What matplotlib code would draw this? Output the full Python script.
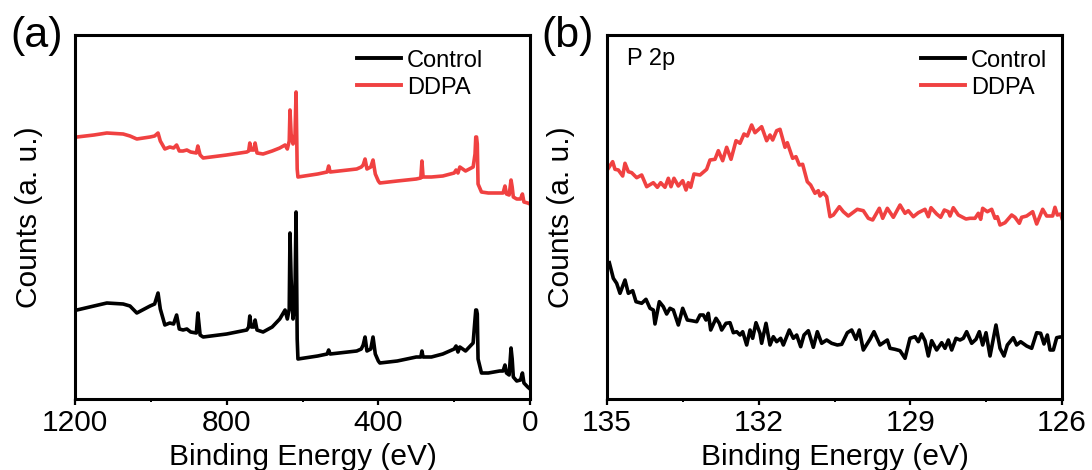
import matplotlib
matplotlib.use("Agg")
import matplotlib.pyplot as plt
from matplotlib.ticker import FixedLocator

plt.rcParams['font.family'] = ['Liberation Sans', 'DejaVu Sans']

# ---------------- Panel (a): survey spectra ----------------
survey_energy = [1200, 1195, 1150, 1116, 1073, 1055, 1037, 1002, 990, 981, 975, 963, 950, 940,
                 932, 925, 915, 905, 895, 880, 876, 870, 862, 800, 747, 742, 739, 735, 728, 725,
                 720, 704, 680, 660, 646, 640, 635, 633, 630, 625, 620, 617, 614, 612, 560, 535,
                 531, 527, 457, 445, 440, 435, 430, 420, 414, 408, 400, 396, 350, 300, 288, 285,
                 282, 260, 230, 200, 195, 190, 185, 170, 150, 145, 143, 141, 139, 137, 128, 110,
                 80, 71, 66, 62, 55, 50, 47, 44, 35, 25, 20, 16, 6, 0]
survey_control = [89, 89, 93, 96, 95, 93, 86, 93, 95, 106, 90, 74, 76, 75,
                  84, 70, 69, 70, 67, 66, 86, 64, 62, 65, 69, 72, 83, 72, 72, 79,
                  69, 67, 72, 80, 89, 80, 90, 166, 120, 80, 100, 187, 60, 40, 43, 45,
                  49, 45, 48, 50, 54, 62, 48, 50, 62, 45, 38, 36, 38, 42, 42, 48,
                  42, 42, 45, 50, 53, 47, 52, 48, 56, 80, 89, 89, 85, 40, 26, 26,
                  28, 28, 34, 26, 24, 51, 40, 22, 18, 19, 26, 16, 12, 10]
survey_ddpa = [262, 262, 264, 266, 265, 263, 260, 262, 263, 266, 258, 250, 252, 251,
               254, 248, 248, 249, 247, 246, 253, 244, 241, 244, 247, 248, 256, 249, 249, 256,
               246, 245, 248, 251, 254, 250, 258, 289, 265, 255, 260, 307, 230, 222, 225, 227,
               233, 227, 230, 232, 234, 240, 230, 232, 239, 225, 218, 216, 218, 220, 221, 238,
               222, 222, 223, 226, 229, 226, 232, 228, 232, 245, 262, 262, 255, 215, 207, 206,
               206, 206, 213, 205, 204, 219, 212, 202, 200, 200, 205, 197, 196, 195]

# ---------------- Panel (b): P 2p ----------------
p2p_energy_ddpa = [134.974, 134.888, 134.842, 134.776, 134.690, 134.644, 134.578, 134.512, 134.413,
                   134.314, 134.215, 134.084, 134.004, 133.938, 133.853, 133.787, 133.734, 133.675,
                   133.589, 133.503, 133.437, 133.391, 133.345, 133.279, 133.160, 133.029, 132.963,
                   132.864, 132.798, 132.712, 132.633, 132.547, 132.448, 132.369, 132.290, 132.224,
                   132.139, 132.073, 131.941, 131.842, 131.776, 131.723, 131.644, 131.578, 131.479,
                   131.433, 131.328, 131.262, 131.196, 131.130, 131.038, 130.972, 130.886, 130.820,
                   130.787, 130.721, 130.655, 130.589, 130.523, 130.404, 130.325, 130.227, 130.049,
                   129.930, 129.831, 129.745, 129.613, 129.547, 129.455, 129.336, 129.204, 129.105,
                   129.040, 128.941, 128.842, 128.710, 128.644, 128.591, 128.479, 128.400, 128.327,
                   128.248, 128.215, 128.150, 128.051, 127.899, 127.820, 127.721, 127.655, 127.609,
                   127.569, 127.477, 127.391, 127.325, 127.279, 127.226, 127.127, 126.996, 126.930,
                   126.844, 126.798, 126.699, 126.580, 126.501, 126.382, 126.303, 126.185, 126.139,
                   126.092, 126.026, 126.000]
p2p_ddpa = [230.7, 237.3, 229.7, 229.0, 223.0, 235.7, 227.3, 226.3, 221.3,
            224.0, 212.3, 216.3, 211.7, 216.3, 211.7, 220.7, 212.3, 220.7,
            213.0, 218.3, 209.0, 216.3, 211.7, 225.0, 224.0, 229.7, 239.0,
            239.7, 248.3, 238.3, 251.7, 239.7, 258.3, 255.7, 265.0, 263.0,
            274.0, 266.3, 272.3, 258.3, 264.0, 259.0, 268.3, 269.7, 251.7,
            256.3, 240.7, 242.3, 234.0, 234.7, 217.3, 214.0, 205.7, 208.3,
            203.0, 206.3, 202.3, 182.3, 184.0, 192.3, 187.3, 183.0, 189.7,
            188.3, 180.7, 179.0, 190.7, 180.7, 190.7, 181.7, 194.0, 185.7,
            188.3, 182.3, 186.3, 189.7, 182.3, 191.3, 185.0, 181.7, 189.0,
            187.3, 183.0, 191.3, 184.0, 180.0, 180.7, 180.7, 185.7, 179.7,
            190.7, 187.3, 189.7, 180.7, 182.3, 174.0, 176.3, 184.0, 181.7,
            175.7, 181.7, 183.0, 187.3, 175.0, 189.7, 183.0, 183.0, 191.7,
            184.0, 185.0, 180.7]

p2p_energy_control = [134.954, 134.875, 134.809, 134.743, 134.644, 134.578, 134.492, 134.426, 134.314,
                      134.229, 134.149, 134.084, 134.051, 133.965, 133.886, 133.820, 133.754, 133.688,
                      133.589, 133.503, 133.411, 133.325, 133.226, 133.160, 133.094, 133.042, 132.996,
                      132.949, 132.844, 132.778, 132.732, 132.646, 132.567, 132.501, 132.435, 132.369,
                      132.316, 132.237, 132.171, 132.119, 132.053, 131.974, 131.941, 131.855, 131.776,
                      131.710, 131.644, 131.565, 131.512, 131.394, 131.314, 131.248, 131.169, 131.103,
                      131.018, 130.919, 130.840, 130.754, 130.655, 130.556, 130.444, 130.358, 130.246,
                      130.160, 130.075, 130.009, 129.930, 129.798, 129.719, 129.600, 129.455, 129.402,
                      129.303, 129.204, 129.105, 129.007, 128.908, 128.842, 128.776, 128.710, 128.644,
                      128.578, 128.479, 128.380, 128.314, 128.248, 128.182, 128.097, 128.017, 127.952,
                      127.886, 127.787, 127.701, 127.635, 127.569, 127.503, 127.424, 127.306, 127.226,
                      127.147, 127.081, 126.963, 126.897, 126.818, 126.699, 126.600, 126.501, 126.422,
                      126.356, 126.290, 126.237, 126.171, 126.105, 126.040, 126.000]
p2p_control = [136.3, 120.7, 115.7, 105.7, 119.0, 105.7, 108.3, 97.3, 95.7,
               99.7, 90.7, 89.0, 75.0, 97.3, 92.3, 85.0, 90.7, 89.0,
               74.0, 90.7, 79.0, 78.3, 77.3, 84.0, 84.0, 79.0, 85.7,
               69.0, 80.7, 75.7, 69.0, 75.7, 76.3, 66.3, 67.3, 64.0,
               67.3, 54.0, 69.0, 60.7, 76.3, 65.7, 55.7, 75.7, 54.0,
               62.3, 57.3, 60.7, 54.0, 69.0, 60.7, 64.0, 52.3, 64.0,
               68.3, 51.7, 67.3, 55.7, 59.0, 55.7, 54.0, 54.7, 66.3,
               69.0, 59.7, 69.0, 49.0, 59.7, 67.3, 54.0, 59.0, 50.7,
               49.7, 48.3, 40.7, 60.7, 62.3, 57.3, 65.0, 58.3, 43.0,
               58.3, 49.0, 56.3, 50.7, 59.0, 49.0, 60.7, 59.0, 60.7,
               67.3, 55.7, 59.7, 67.3, 54.0, 66.3, 43.0, 74.0, 50.7,
               43.0, 54.0, 61.3, 54.0, 57.3, 53.0, 50.7, 66.3, 65.7,
               55.0, 64.0, 49.0, 49.0, 61.3, 62.0, 62.0]

survey_major = [1200, 800, 400, 0]
survey_minor = [1000, 600, 200]
p2p_major = [135, 132, 129, 126]
p2p_minor = [133.5, 130.5, 127.5]

BLACK = '#000000'
RED = '#F04141'

W, H = 1092, 470
fig = plt.figure(figsize=(W / 100, H / 100), dpi=100)

def px_axes(l, r, t, b):
    return fig.add_axes([l / W, (H - b) / H, (r - l) / W, (b - t) / H])

ax1 = px_axes(75, 530, 35, 399)
ax2 = px_axes(607, 1062, 35, 399)

LW = 2.6
ax1.plot(survey_energy, survey_control, color=BLACK, lw=LW, label='Control')
ax1.plot(survey_energy, survey_ddpa, color=RED, lw=LW, label='DDPA')
ax1.set_xlim(1200, 0)

ax2.plot(p2p_energy_control, p2p_control, color=BLACK, lw=LW, label='Control')
ax2.plot(p2p_energy_ddpa, p2p_ddpa, color=RED, lw=LW, label='DDPA')
ax2.set_xlim(135, 126)

for ax, maj, mino, legx in [(ax1, survey_major, survey_minor, 0.897),
                            (ax2, p2p_major, p2p_minor, 0.967)]:
    ax.set_ylim(0, 364)
    ax.xaxis.set_major_locator(FixedLocator(maj))
    ax.xaxis.set_minor_locator(FixedLocator(mino))
    ax.set_yticks([])
    for s in ax.spines.values():
        s.set_linewidth(2.2)
    ax.tick_params(axis='x', which='major', direction='out', length=4.5, width=1.6,
                   labelsize=21.5, pad=3)
    ax.tick_params(axis='x', which='minor', direction='out', length=2.5, width=1.4)
    ax.set_xlabel('Binding Energy (eV)', fontsize=21.5, labelpad=4)
    ax.set_ylabel('Counts (a. u.)', fontsize=21.5, labelpad=23)
    leg = ax.legend(loc='upper right', bbox_to_anchor=(legx, 0.96), frameon=False,
                    fontsize=17, handlelength=1.85, handletextpad=0.25,
                    labelspacing=0.22, borderpad=0, borderaxespad=0)
    for line in leg.get_lines():
        line.set_linewidth(2.8)

ax2.text(0.045, 0.935, 'P 2p', transform=ax2.transAxes, fontsize=17, va='center', ha='left')

fig.text(10 / W, 1 - 36 / H, '(a)', fontsize=31, va='center', ha='left')
fig.text(541 / W, 1 - 36 / H, '(b)', fontsize=31, va='center', ha='left')

fig.savefig('out.png', dpi=100)
